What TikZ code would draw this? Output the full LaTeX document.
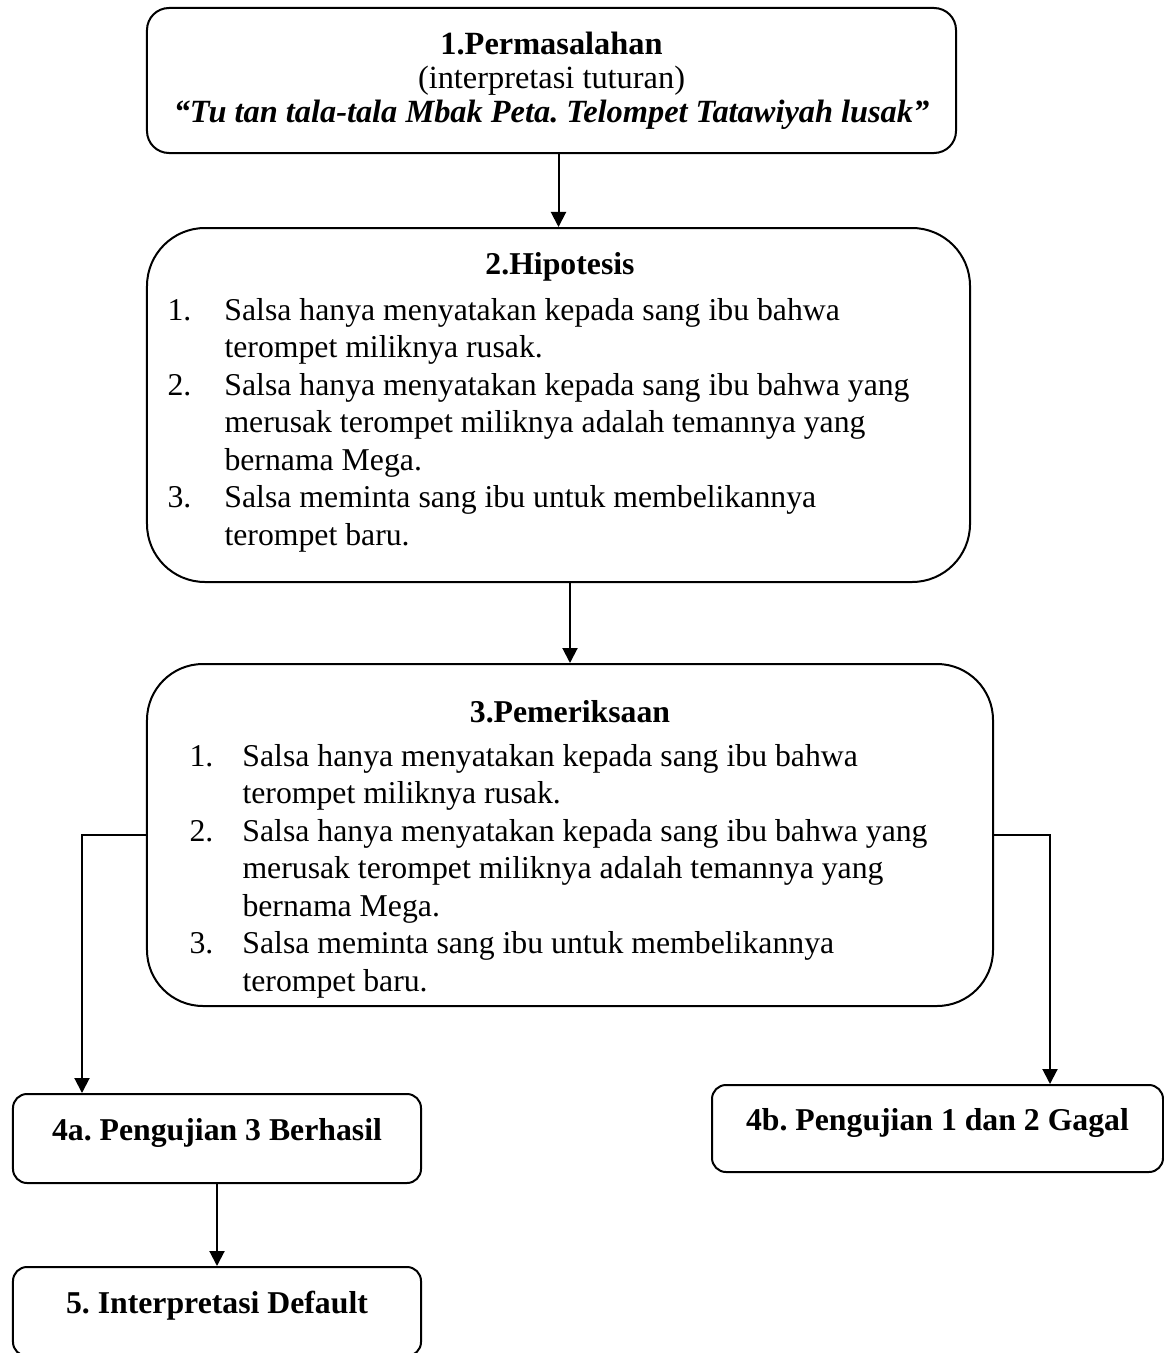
\documentclass[tikz,border=0pt]{standalone}
\usepackage{fontspec}
\setmainfont{Liberation Serif}
\frenchspacing
\usetikzlibrary{arrows.meta}
\tikzset{
  box/.style={rectangle, draw, line width=0.8pt, inner sep=0pt},
  smallbox/.style={box, rounded corners=5.6pt, minimum width=163.2pt, minimum height=35.6pt,
    font=\fontsize{12.7}{14.8}\selectfont\bfseries, text height=8.7pt, text depth=7.5pt},
  txt/.style={inner sep=0pt, font=\fontsize{12.7}{15}\selectfont},
  head/.style={inner sep=0pt, font=\fontsize{12.7}{15}\selectfont\bfseries},
  line/.style={-{Triangle[width=6pt,length=6pt]}, line width=0.8pt}
}
\newcommand{\salsalist}[1]{%
  \begin{tabular}[t]{@{}p{#1}@{}l@{}}
    1. & Salsa hanya menyatakan kepada sang ibu bahwa\\
       & terompet miliknya rusak.\\
    2. & Salsa hanya menyatakan kepada sang ibu bahwa yang\\
       & merusak terompet miliknya adalah temannya yang\\
       & bernama Mega.\\
    3. & Salsa meminta sang ibu untuk membelikannya\\
       & terompet baru.
  \end{tabular}}

\begin{document}
\begin{tikzpicture}[x=0.4pt, y=-0.4pt]
  \useasboundingbox (0,0) rectangle (1164,1353);
  % boxes
  \node[box, rounded corners=8.8pt, minimum width=323.6pt, minimum height=58pt, align=center,
    font=\fontsize{12.95}{13.6}\selectfont] (b1) at (551.5,80.5)
    {\textbf{1.Permasalahan}\\(interpretasi tuturan)\\\textbf{\textit{“Tu tan tala-tala Mbak Peta. Telompet Tatawiyah lusak”}}};
  \node[box, rounded corners=23.2pt, minimum width=329.2pt, minimum height=141.6pt] (b2) at (558.5,405) {};
  \node[head, anchor=base] (h2) at (560,274) {2.Hipotesis};
  \node[txt, anchor=base west] (l2) at (167,320) {\salsalist{22.8pt}};
  \node[box, rounded corners=22.4pt, minimum width=338.4pt, minimum height=136.8pt] (b3) at (570,835) {};
  \node[head, anchor=base] (h3) at (570,722) {3.Pemeriksaan};
  \node[txt, anchor=base west] (l3) at (189,766) {\salsalist{21.2pt}};
  \node[smallbox] (b4a) at (217,1138.5) {4a. Pengujian 3 Berhasil};
  \node[smallbox, minimum width=180.4pt, minimum height=34.8pt] (b4b) at (937.5,1128.5) {4b. Pengujian 1 dan 2 Gagal};
  \node[smallbox] (b5) at (217,1311.5) {5. Interpretasi Default};
  % connectors
  \draw[line] (b2.north |- b1.south) -- (b2.north);
  \draw[line] (b3.north |- b2.south) -- (b3.north);
  \draw[line] (b3.west) -| ([xshift=28pt]b4a.north west);
  \draw[line] (b3.east) -| ([xshift=45pt]b4b.north);
  \draw[line] (b4a) -- (b5);
\end{tikzpicture}
\end{document}
